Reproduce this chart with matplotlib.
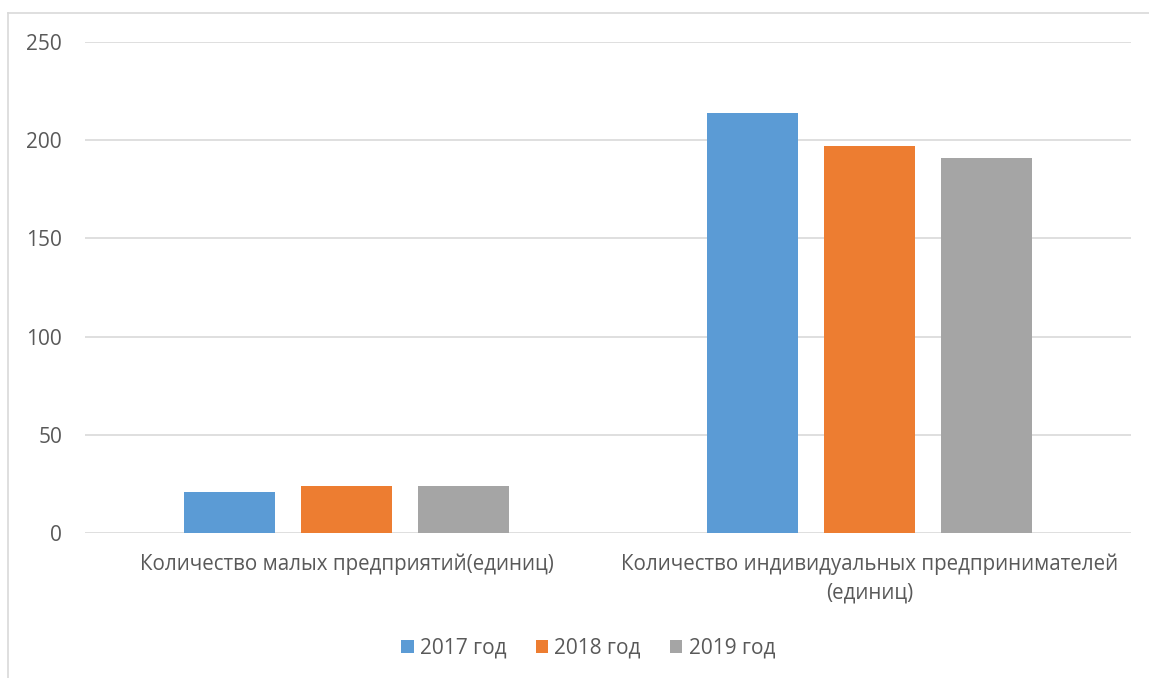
import matplotlib

matplotlib.use("Agg")
import matplotlib.pyplot as plt
import numpy as np
from matplotlib.lines import Line2D

plt.rcParams["font.family"] = ["Open Sans", "DejaVu Sans"]

categories = ["Количество малых предприятий(единиц)",
              "Количество индивидуальных предпринимателей\n(единиц)"]
years = ["2017 год", "2018 год", "2019 год"]
v2017 = [21, 214]
v2018 = [24, 197]
v2019 = [24, 191]
colors = ["#5b9bd5", "#ed7d31", "#a5a5a5"]

W, H = 1149, 678
fig = plt.figure(figsize=(W / 100, H / 100), dpi=100)
ax = fig.add_axes([85 / W, 1 - 533 / H, (1131 - 85) / W, (533 - 42) / H])

x = np.arange(len(categories))
width = 0.174
offset = 0.2228
for i, (vals, lab, c) in enumerate(zip([v2017, v2018, v2019], years, colors)):
    ax.bar(x + (i - 1) * offset, vals, width, color=c, label=lab, zorder=3)

ax.set_xlim(-0.5, 1.5)
ax.set_ylim(0, 250)
ax.set_yticks(range(0, 251, 50))
ax.grid(axis="y", color="#d9d9d9", lw=1.2, zorder=0)
for s in ax.spines.values():
    s.set_visible(False)
ax.tick_params(axis="y", length=0, pad=16.5, labelsize=15, labelcolor="#595959")
ax.tick_params(axis="x", length=0, pad=15, labelsize=14.8, labelcolor="#595959")
ax.set_xticks(x)
ax.set_xticklabels(categories, linespacing=1.45)

fig.legend(loc="center", bbox_to_anchor=(588 / W, 1 - 648 / H), ncol=3,
           frameon=False, fontsize=15, labelcolor="#595959",
           handlelength=0.6, handleheight=0.6, handletextpad=0.3, columnspacing=1.4)

# outer chart border (top and left edges visible)
fig.add_artist(Line2D([8 / W, 1], [1 - 13 / H, 1 - 13 / H], color="#d9d9d9", lw=1.2))
fig.add_artist(Line2D([8 / W, 8 / W], [0, 1 - 13 / H], color="#d9d9d9", lw=1.2))

fig.savefig("out.png", dpi=100)
